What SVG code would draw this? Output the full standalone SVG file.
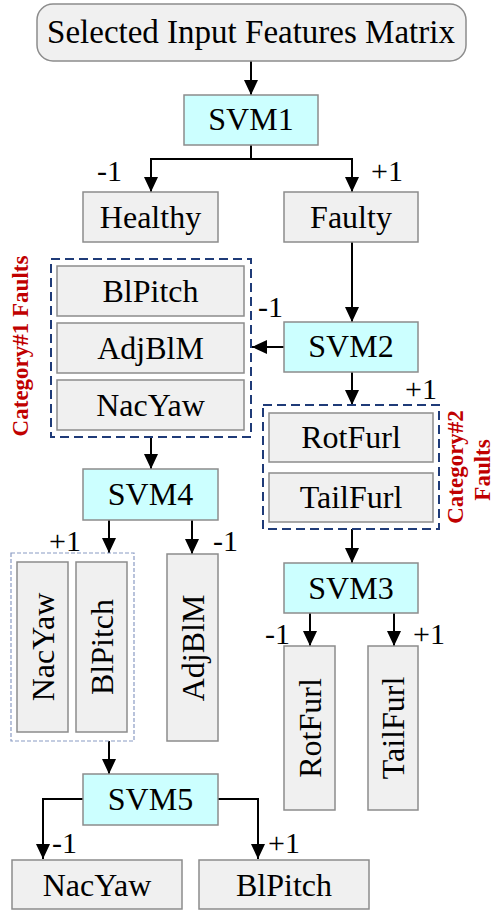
<svg xmlns="http://www.w3.org/2000/svg" width="496" height="910" viewBox="0 0 496 910">
<style>
.box{fill:#f0f0f0;stroke:#8c8c8c;stroke-width:1.5}
.svm{fill:#ccffff;stroke:#8c8c8c;stroke-width:1.5}
.t{font-family:"Liberation Serif",serif;font-size:32px;fill:#000;text-anchor:middle}
.lbl{font-family:"Liberation Serif",serif;font-size:30px;fill:#000}
.cat{font-family:"Liberation Serif",serif;font-size:23px;font-weight:bold;fill:#c00000;text-anchor:middle}
.dash{fill:none;stroke:#1f3b78;stroke-width:2;stroke-dasharray:9 5}
.dot{fill:none;stroke:#8a9bc4;stroke-width:1.2;stroke-dasharray:4 2}
.c{fill:none;stroke:#000;stroke-width:2;marker-end:url(#ah)}
</style>
<defs>
<marker id="ah" viewBox="0 0 15 14" refX="15" refY="7" markerWidth="15" markerHeight="14" markerUnits="userSpaceOnUse" orient="auto">
<path d="M0,0 L15,7 L0,14 z" fill="#000"/>
</marker>
</defs>
<g id="connectors">
<path class="c" d="M251,61 V95"/>
<path class="c" d="M251,145 V159 H151 V192"/>
<path class="c" d="M251,159 H352 V192"/>
<path class="c" d="M352,242 V322"/>
<path class="c" d="M284,347 H252"/>
<path class="c" d="M352,372 V405"/>
<path class="c" d="M151,437 V469"/>
<path class="c" d="M109,520 V553"/>
<path class="c" d="M192,520 V554"/>
<path class="c" d="M352,529 V563"/>
<path class="c" d="M310,613 V646"/>
<path class="c" d="M394,613 V646"/>
<path class="c" d="M109,741 V774"/>
<path class="c" d="M83,799 H43 V859"/>
<path class="c" d="M218,799 H258 V859"/>
</g>
<g id="labels">
<text class="lbl" x="97" y="181">-1</text>
<text class="lbl" x="371" y="181">+1</text>
<text class="lbl" x="258" y="317">-1</text>
<text class="lbl" x="405" y="399">+1</text>
<text class="lbl" x="49" y="551">+1</text>
<text class="lbl" x="213" y="551">-1</text>
<text class="lbl" x="265" y="644">-1</text>
<text class="lbl" x="413" y="644">+1</text>
<text class="lbl" x="52" y="853">-1</text>
<text class="lbl" x="268" y="853">+1</text>
</g>
<g id="input">
<rect class="box" x="37" y="4" width="429" height="57" rx="16"/>
<text class="t" x="251" y="43" style="font-size:33px">Selected Input Features Matrix</text>
</g>
<g id="svm1"><rect class="svm" x="184" y="95" width="134" height="50"/><text class="t" x="251" y="130">SVM1</text></g>
<g id="healthy"><rect class="box" x="83" y="192" width="135" height="50"/><text class="t" x="150.5" y="228">Healthy</text></g>
<g id="faulty"><rect class="box" x="284" y="192" width="134" height="50"/><text class="t" x="351" y="228">Faulty</text></g>
<g id="category1">
<rect class="dash" x="51" y="259" width="200" height="178"/>
<text class="cat" transform="translate(28,346) rotate(-90)">Category#1 Faults</text>
</g>
<g id="blpitch1"><rect class="box" x="57" y="266" width="187" height="50"/><text class="t" x="150.5" y="302">BlPitch</text></g>
<g id="adjblm1"><rect class="box" x="57" y="323" width="187" height="50"/><text class="t" x="150.5" y="359">AdjBlM</text></g>
<g id="nacyaw1"><rect class="box" x="57" y="380" width="187" height="50"/><text class="t" x="150.5" y="416">NacYaw</text></g>
<g id="svm2"><rect class="svm" x="284" y="322" width="134" height="50"/><text class="t" x="351" y="357">SVM2</text></g>
<g id="category2">
<rect class="dash" x="263" y="405" width="176" height="124"/>
<text class="cat" transform="translate(463,467) rotate(-90)">Category#2</text>
<text class="cat" transform="translate(490,470) rotate(-90)">Faults</text>
</g>
<g id="rotfurl1"><rect class="box" x="269" y="413" width="164" height="49"/><text class="t" x="351" y="448">RotFurl</text></g>
<g id="tailfurl1"><rect class="box" x="269" y="473" width="164" height="49"/><text class="t" x="351" y="508">TailFurl</text></g>
<g id="svm4"><rect class="svm" x="83" y="469" width="135" height="51"/><text class="t" x="150.5" y="505">SVM4</text></g>
<g id="group45"><rect class="dot" x="11" y="553" width="123" height="188"/></g>
<g id="nacyaw2"><rect class="box" x="17" y="562" width="51" height="170"/><text class="t" transform="translate(42.5,647) rotate(-90)" y="11">NacYaw</text></g>
<g id="blpitch2"><rect class="box" x="76" y="562" width="51" height="170"/><text class="t" transform="translate(101.5,647) rotate(-90)" y="11">BlPitch</text></g>
<g id="adjblm2"><rect class="box" x="167" y="554" width="51" height="187"/><text class="t" transform="translate(192.5,648) rotate(-90)" y="11">AdjBlM</text></g>
<g id="svm3"><rect class="svm" x="284" y="563" width="134" height="50"/><text class="t" x="351" y="599">SVM3</text></g>
<g id="rotfurl2"><rect class="box" x="284" y="646" width="51" height="164"/><text class="t" transform="translate(309.5,728) rotate(-90)" y="11">RotFurl</text></g>
<g id="tailfurl2"><rect class="box" x="368" y="646" width="50" height="164"/><text class="t" transform="translate(393,728) rotate(-90)" y="11">TailFurl</text></g>
<g id="svm5"><rect class="svm" x="83" y="774" width="135" height="51"/><text class="t" x="150.5" y="810">SVM5</text></g>
<g id="nacyaw3"><rect class="box" x="12" y="860" width="170" height="49"/><text class="t" x="97" y="896">NacYaw</text></g>
<g id="blpitch3"><rect class="box" x="199" y="860" width="170" height="49"/><text class="t" x="284" y="896">BlPitch</text></g>
</svg>
